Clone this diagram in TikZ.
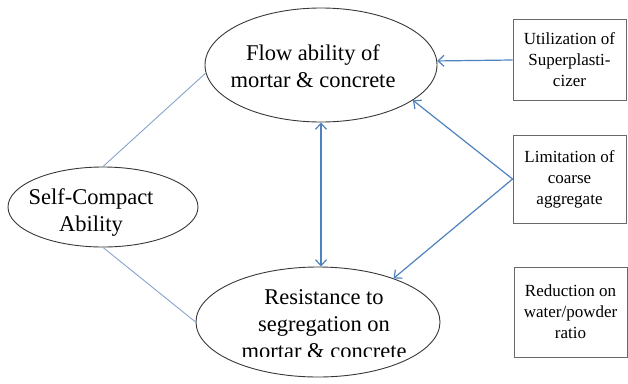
\documentclass[tikz,border=0pt]{standalone}
\usepackage{fontspec}
\setmainfont{Liberation Serif}
\usepackage{tikz}
\usetikzlibrary{positioning, shapes.geometric, arrows.meta}
\definecolor{linkblue}{RGB}{79,129,189}
\definecolor{lineblue}{RGB}{135,163,203}
\definecolor{ellline}{RGB}{55,55,55}
\definecolor{boxline}{RGB}{105,105,105}

\begin{document}
\begin{tikzpicture}[
  x=1pt, y=-1pt,
  >={Straight Barb[length=6pt,width=11pt]},
  ell/.style={ellipse, draw=ellline, line width=0.9pt, inner sep=0pt},
  etxt/.style={align=center, inner sep=0pt,
               font={\fontsize{22.5}{27}\selectfont}},
  fac/.style={rectangle, draw=boxline, line width=0.9pt, align=center,
              minimum width=113pt, minimum height=84pt, inner sep=2pt,
              font={\fontsize{17}{21}\selectfont}},
  arr/.style={->, line width=1.2pt, draw=linkblue},
  dbl/.style={<->, line width=1.2pt, draw=linkblue},
  lnk/.style={line width=0.9pt, draw=lineblue}
]
\useasboundingbox (0,0) rectangle (628,383);
% ellipses
\node[ell, minimum width=232pt, minimum height=114pt] (flow) at (321,65) {};
\node[ell, minimum width=190pt, minimum height=80pt] (sca) at (103,207) {};
\node[ell, minimum width=244pt, minimum height=110pt] (res) at (318,322) {};
\node[etxt] (flowtxt) at (313,66) {Flow ability of\\mortar \& concrete};
\node[etxt] (scatxt) at (91,213) {Self-Compact\\Ability};
\begin{scope}
  \clip (190,240) rectangle (450,356);
  \node[etxt] (restxt) at (324,324) {Resistance to\\segregation on\\mortar \& concrete};
\end{scope}
% factor boxes
\node[fac, minimum height=81pt] (utsp) at (569.5,60) {Utilization of\\Superplasti-\\cizer};
\node[fac, minimum height=88pt] (limca) at (569.5,179) {Limitation of\\coarse\\aggregate};
\node[fac, minimum height=90pt] (redwp) at (570.5,312) {Reduction on\\water/powder\\ratio};
% connectors
\draw[arr] (utsp.west) -- (flow.2);
\draw[arr] (limca.west) -- (flow.-21);
\draw[arr] (limca.west) -- (res.30);
\draw[dbl] (flow.south) -- (flow.south |- res.north);
\draw[lnk] (flow.184) -- (sca.north);
\draw[lnk] (sca.south) -- (res.west);
\end{tikzpicture}
\end{document}
